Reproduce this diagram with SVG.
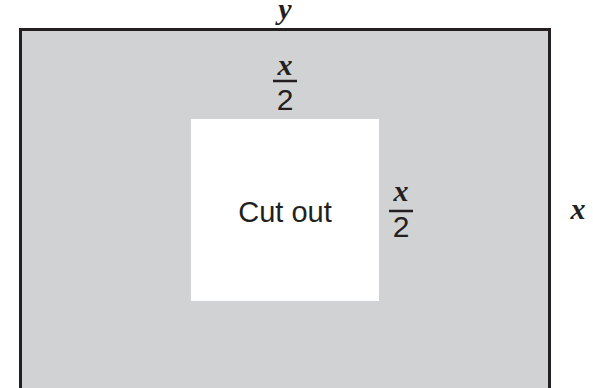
<svg xmlns="http://www.w3.org/2000/svg" width="593" height="388" viewBox="0 0 593 388">
  <style>
    .var { font-family: "Liberation Serif", "Times New Roman", serif; font-style: italic; font-weight: bold; font-size: 30px; fill: #231f20; text-anchor: middle; }
    .num { font-family: "Liberation Sans", Arial, sans-serif; font-size: 30px; fill: #231f20; text-anchor: middle; }
    .lbl { font-family: "Liberation Sans", Arial, sans-serif; font-size: 29px; fill: #231f20; text-anchor: middle; }
    .bar { stroke: #231f20; stroke-width: 2.5; }
  </style>
  <rect width="593" height="388" fill="#ffffff"/>
  <g id="sheet">
    <rect x="20.5" y="29.5" width="529" height="400" fill="#d1d2d4" stroke="#231f20" stroke-width="3"/>
  </g>
  <g id="cutout">
    <rect x="191" y="119" width="188" height="182" fill="#ffffff"/>
    <text class="lbl" x="285" y="222">Cut out</text>
  </g>
  <g id="labels">
    <text class="var" x="285" y="19">y</text>
    <text class="var" x="578" y="219">x</text>
    <g id="frac-top">
      <text class="var" x="285" y="75">x</text>
      <line class="bar" x1="273" y1="81" x2="297" y2="81"/>
      <text class="num" x="285" y="110">2</text>
    </g>
    <g id="frac-right">
      <text class="var" x="401" y="201">x</text>
      <line class="bar" x1="389" y1="211" x2="413" y2="211"/>
      <text class="num" x="401" y="237">2</text>
    </g>
  </g>
</svg>
